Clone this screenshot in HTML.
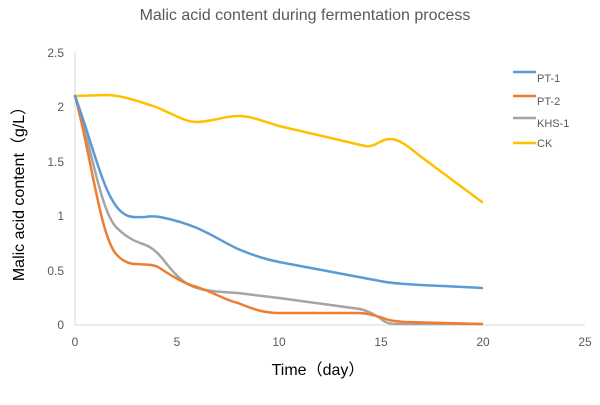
<!DOCTYPE html>
<html><head><meta charset="utf-8"><style>
body{margin:0;background:#fff}
svg text{font-family:"Liberation Sans","Noto Sans CJK SC",sans-serif}
</style></head><body>
<svg width="600" height="400" viewBox="0 0 600 400" xmlns="http://www.w3.org/2000/svg">
<rect width="600" height="400" fill="#fff"/>
<text x="305" y="20" font-size="16" fill="#595959" text-anchor="middle">Malic acid content during fermentation process</text>
<g stroke="#d9d9d9" stroke-width="1">
<line x1="75" y1="52" x2="75" y2="325"/>
<line x1="75" y1="325" x2="585" y2="325"/>
</g>
<g font-size="12" fill="#595959" text-anchor="end">
<text x="64" y="57">2.5</text><text x="64" y="111">2</text><text x="64" y="166">1.5</text>
<text x="64" y="220">1</text><text x="64" y="275">0.5</text><text x="64" y="329">0</text>
</g>
<g font-size="12" fill="#595959" text-anchor="middle">
<text x="75" y="346">0</text><text x="177" y="346">5</text><text x="279" y="346">10</text>
<text x="381" y="346">15</text><text x="483" y="346">20</text><text x="585" y="346">25</text>
</g>
<text x="318" y="375" font-size="16" fill="#000" text-anchor="middle">Time（day）</text>
<text transform="translate(24,190) rotate(-90)" font-size="16" fill="#000" text-anchor="middle">Malic acid content（g/L）</text>
<g fill="none" stroke-width="2.5" stroke-linejoin="round" stroke-linecap="round">
<path stroke="#ffc000" d="M75,96 L106,95 C120,95 135,100 156,107 C175,115 185,122 197,122 C210,122 225,116 238,116 C252,116 265,122 279,126 L365,146 C375,148 380,139 390,139 C400,139 410,148 420,156 L482,202"/>
<path stroke="#a5a5a5" d="M75,96 C90,140 100,210 116,227 C125,236 132,240 140,243 C150,246 155,250 162,258 C175,275 185,285 197,288 C210,292 225,292 238,293 L279,298 L360,309 C372,312 376,316 380,318 C385,323 390,324 396,324 L482,324"/>
<path stroke="#ed7d31" d="M75,96 C90,150 100,235 116,254 C123,262 130,264 136,264 C146,265 152,264 158,267 C175,278 185,284 197,287 C215,293 225,300 238,303 C255,310 265,313 279,313 L360,313 C372,314 376,316 383,318 C390,321 395,321 405,322 L482,324"/>
<path stroke="#5b9bd5" d="M75,96 C95,150 105,205 126,215 C132,218 138,217 145,217 C150,216 154,216 160,217 C175,220 185,223 197,228 C215,236 225,243 238,249 C255,256 265,259 279,262 L380,281 C400,285 430,285 482,288"/>
</g>
<g stroke-width="2.5">
<line x1="513" y1="72" x2="536" y2="72" stroke="#5b9bd5"/>
<line x1="513" y1="96" x2="536" y2="96" stroke="#ed7d31"/>
<line x1="513" y1="118" x2="536" y2="118" stroke="#a5a5a5"/>
<line x1="513" y1="143" x2="536" y2="143" stroke="#ffc000"/>
</g>
<g font-size="11" fill="#595959">
<text x="537" y="82">PT-1</text><text x="537" y="105">PT-2</text>
<text x="537" y="127">KHS-1</text><text x="537" y="147">CK</text>
</g>
</svg>
</body></html>
